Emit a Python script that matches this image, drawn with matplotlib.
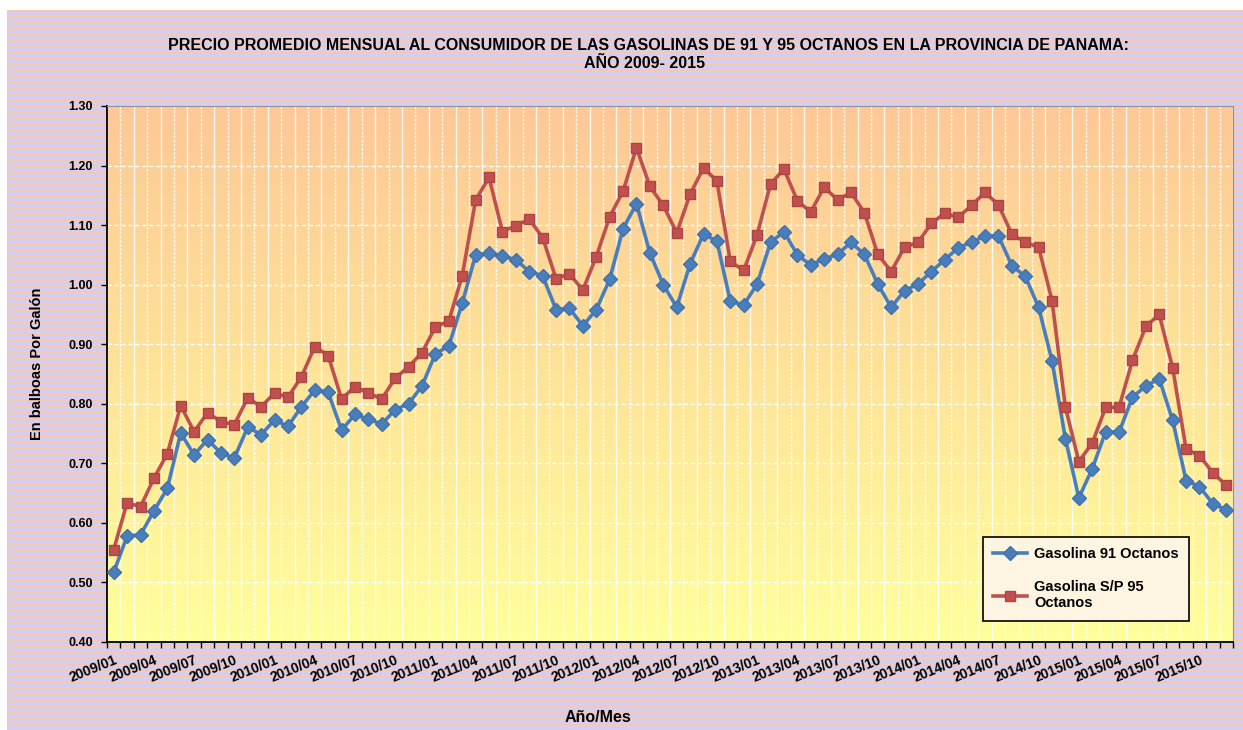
import numpy as np
import matplotlib
matplotlib.use("Agg")
import matplotlib.pyplot as plt

plt.rcParams['font.family'] = ['Liberation Sans', 'DejaVu Sans']
plt.rcParams['font.weight'] = 'bold'

# months 2009/01 .. 2015/12
years = list(range(2009, 2016))
months = [f"{y}/{m:02d}" for y in years for m in range(1, 13)]

gas91 = [0.517, 0.578, 0.580, 0.620, 0.658, 0.751, 0.714, 0.740, 0.717, 0.709, 0.761, 0.748,
         0.773, 0.762, 0.795, 0.823, 0.819, 0.756, 0.782, 0.774, 0.766, 0.790, 0.800, 0.830,
         0.884, 0.897, 0.969, 1.050, 1.053, 1.048, 1.042, 1.022, 1.015, 0.958, 0.960, 0.931,
         0.958, 1.009, 1.094, 1.136, 1.053, 1.000, 0.962, 1.035, 1.085, 1.073, 0.972, 0.966,
         1.001, 1.071, 1.089, 1.050, 1.033, 1.043, 1.051, 1.071, 1.051, 1.001, 0.962, 0.990,
         1.001, 1.022, 1.042, 1.062, 1.071, 1.082, 1.082, 1.032, 1.014, 0.962, 0.872, 0.741,
         0.642, 0.691, 0.753, 0.752, 0.811, 0.830, 0.842, 0.772, 0.671, 0.661, 0.632, 0.622]

gas95 = [0.555, 0.634, 0.627, 0.675, 0.716, 0.797, 0.753, 0.785, 0.770, 0.765, 0.810, 0.795,
         0.818, 0.811, 0.845, 0.896, 0.881, 0.808, 0.829, 0.818, 0.808, 0.843, 0.862, 0.886,
         0.929, 0.939, 1.015, 1.142, 1.180, 1.089, 1.099, 1.110, 1.079, 1.010, 1.018, 0.991,
         1.047, 1.114, 1.157, 1.230, 1.165, 1.133, 1.087, 1.152, 1.196, 1.174, 1.039, 1.024,
         1.084, 1.169, 1.194, 1.141, 1.122, 1.164, 1.142, 1.155, 1.121, 1.051, 1.022, 1.063,
         1.071, 1.103, 1.120, 1.113, 1.133, 1.155, 1.134, 1.085, 1.071, 1.063, 0.973, 0.794,
         0.703, 0.734, 0.794, 0.794, 0.873, 0.930, 0.950, 0.860, 0.724, 0.713, 0.684, 0.663]

yticks = [0.40, 0.50, 0.60, 0.70, 0.80, 0.90, 1.00, 1.10, 1.20, 1.30]

W, H = 1243, 730
fig = plt.figure(figsize=(W / 100, H / 100), dpi=100)
fig.patch.set_facecolor('white')

# striped background (peach / lavender)
bg = fig.add_axes([7 / W, 0, 1 - 7 / W, 1 - 10 / H])
rows = H - 10
stripe = np.zeros((rows, 1, 3))
peach = np.array([248, 200, 170]) / 255
lav = np.array([214, 206, 240]) / 255
for r in range(rows):
    stripe[r, 0] = peach if r % 3 == 0 else lav
bg.imshow(stripe, aspect='auto', interpolation='nearest')
bg.axis('off')

ax = fig.add_axes([107 / W, 1 - 642 / H, (1233 - 107) / W, (642 - 106) / H])
x = np.arange(len(months))

# gradient plot area
top = np.array([253, 200, 150]) / 255
bot = np.array([255, 255, 156]) / 255
t = np.linspace(0, 1, 256)[:, None]
grad = (top * (1 - t) + bot * t)[:, None, :]
ax.imshow(grad, extent=(-0.5, len(months) - 0.5, 0.40, 1.30), aspect='auto', zorder=0)

# grid
for k in range(len(months) + 1):
    ax.axvline(k - 0.5, color='white', lw=1.0, alpha=0.85, zorder=1,
               ls='-' if k % 2 == 0 else (0, (2, 1)))
for yv in yticks[1:-1]:
    ax.axhline(yv, color='white', lw=1.0, ls=(0, (3, 2)), zorder=1)

l91, = ax.plot(x, gas91, color='#4a7ebb', lw=2.6, marker='D', ms=7.5,
               mfc='#4a7ebb', mec='#3f71ad', zorder=3, label='Gasolina 91 Octanos')
l95, = ax.plot(x, gas95, color='#c0504d', lw=2.6, marker='s', ms=6.8,
               mfc='#c0504d', mec='#b0443f', zorder=3, label='Gasolina S/P 95\nOctanos')

ax.set_xlim(-0.5, len(months) - 0.5)
ax.set_ylim(0.40, 1.30)
ax.set_yticks(yticks)
ax.set_yticklabels([f"{v:.2f}" for v in yticks], fontsize=9, fontweight='bold')
ax.set_xticks(x[::3])
ax.set_xticklabels(months[::3], rotation=22, ha='right', rotation_mode='anchor',
                   fontsize=10, fontweight='bold')
ax.set_xticks(np.arange(len(months) + 1) - 0.5, minor=True)
ax.tick_params(axis='x', which='major', length=0, pad=8)
ax.tick_params(axis='x', which='minor', length=4, width=1, direction='out')
ax.tick_params(axis='y', length=4, width=1, direction='out', pad=6)

for s in ['left', 'bottom']:
    ax.spines[s].set_color('black')
    ax.spines[s].set_linewidth(1.3)
for s in ['top', 'right']:
    ax.spines[s].set_color('#909090')
    ax.spines[s].set_linewidth(0.8)

fig.text(648 / W, 1 - 45 / H,
         'PRECIO PROMEDIO MENSUAL AL CONSUMIDOR DE LAS GASOLINAS DE 91 Y 95 OCTANOS EN LA PROVINCIA DE PANAMA:',
         ha='center', va='center', fontsize=11.5, fontweight='bold')
fig.text(645 / W, 1 - 63 / H, 'AÑO 2009- 2015', ha='center', va='center',
         fontsize=11.5, fontweight='bold')
fig.text(37 / W, 1 - 364 / H, 'En balboas Por Galón', rotation=90, ha='center', va='center',
         fontsize=10.5, fontweight='bold')
fig.text(598 / W, 1 - 718 / H, 'Año/Mes', ha='center', va='center',
         fontsize=11.5, fontweight='bold')

leg = ax.legend(handles=[l91, l95], loc='upper left',
                bbox_to_anchor=(983 / W, 1 - 537 / H), bbox_transform=fig.transFigure,
                frameon=True, fancybox=False, labelspacing=1.3, borderaxespad=0,
                handlelength=2.3, borderpad=0.7, handletextpad=0.5,
                prop={'weight': 'bold', 'size': 10.5})
leg.get_frame().set_facecolor('#fdf5e2')
leg.get_frame().set_edgecolor('black')
leg.get_frame().set_linewidth(1.2)
leg.get_frame().set_alpha(1)
leg.set_zorder(5)

fig.savefig('out.png', dpi=100)
